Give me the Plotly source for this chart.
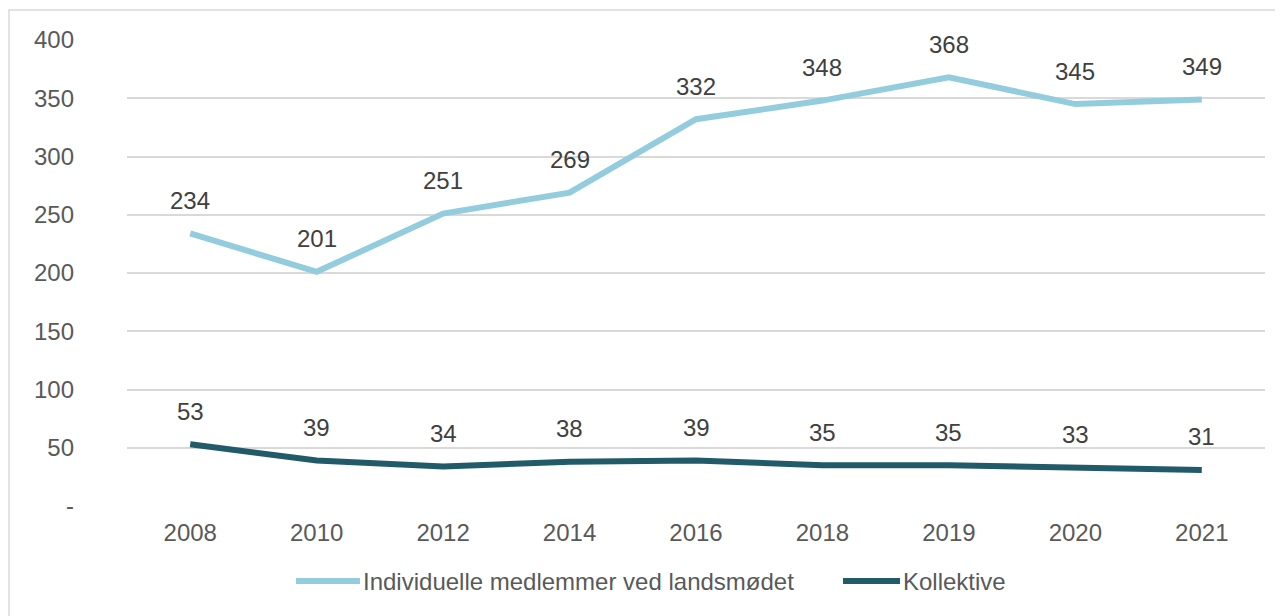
import plotly.graph_objects as go

years = ["2008", "2010", "2012", "2014", "2016", "2018", "2019", "2020", "2021"]
individuelle = [234, 201, 251, 269, 332, 348, 368, 345, 349]
kollektive = [53, 39, 34, 38, 39, 35, 35, 33, 31]
series_names = ["Individuelle medlemmer ved landsmødet", "Kollektive"]
y_tickvals = [0, 50, 100, 150, 200, 250, 300, 350, 400]
y_ticktext = ["-", "50", "100", "150", "200", "250", "300", "350", "400"]

light = "#93CDDD"
dark = "#215A68"
FONT = "Arial, Liberation Sans, sans-serif"

fig = go.Figure()
for name, vals, col in [(series_names[0], individuelle, light), (series_names[1], kollektive, dark)]:
    fig.add_trace(go.Scatter(x=years, y=vals, mode="lines", name=name,
                             line=dict(color=col, width=6), showlegend=False,
                             hoverinfo="x+y"))
    for i, v in enumerate(vals):
        fig.add_annotation(x=i, y=v, xref="x", yref="y", text=str(v), showarrow=False,
                           yshift=33,
                           font=dict(family=FONT, size=24, color="#404040"))

# Custom legend
legend_items = [
    (series_names[0], light, 0.1485, 0.2047, 0.2074),
    (series_names[1], dark, 0.6292, 0.6793, 0.6819),
]
ly = -0.161
for name, col, x0, x1, xt in legend_items:
    fig.add_shape(type="line", xref="paper", yref="paper", x0=x0, x1=x1, y0=ly, y1=ly,
                  line=dict(color=col, width=6))
    fig.add_annotation(xref="paper", yref="paper", x=xt, y=ly, text=name, showarrow=False,
                       xanchor="left", yanchor="middle", xshift=-2,
                       font=dict(family=FONT, size=24, color="#595959"))

# Outer border
fig.add_shape(type="rect", xref="paper", yref="paper", x0=-0.1037, x1=1.2, y0=-0.5, y1=1.0644,
              line=dict(color="#D9D9D9", width=1.5), layer="below")

fig.update_layout(
    width=1275, height=608,
    margin=dict(l=119, r=18, t=32, b=110),
    paper_bgcolor="white", plot_bgcolor="white",
    font=dict(family=FONT, size=24, color="#595959"),
    xaxis=dict(type="category", categoryorder="array", categoryarray=years,
               range=[-0.5, len(years) - 0.5], autorange=False,
               showgrid=False, showline=False, ticks="",
               tickfont=dict(size=24, color="#595959"), ticklabelstandoff=10,
               automargin=False, fixedrange=True),
    yaxis=dict(range=[0, 400], autorange=False, tickvals=y_tickvals, ticktext=y_ticktext,
               showgrid=True, gridcolor="#D9D9D9", gridwidth=1.5,
               zeroline=False, showline=False, ticks="",
               tickfont=dict(size=24, color="#595959"), ticklabelstandoff=52,
               automargin=False, fixedrange=True),
)

fig.write_html("out.html")
